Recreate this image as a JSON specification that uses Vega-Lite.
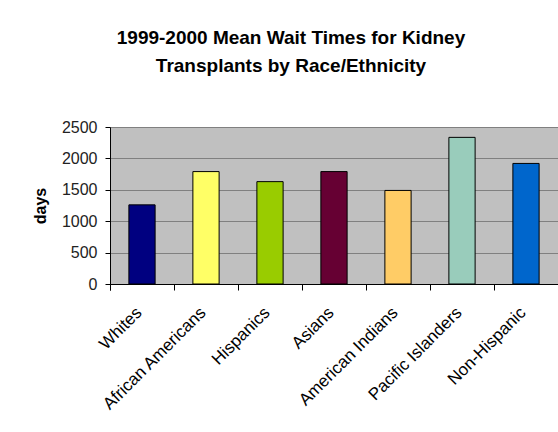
{
  "$schema": "https://vega.github.io/schema/vega-lite/v6.json",
  "autosize": "none",
  "padding": {"left": 110, "top": 127, "right": 0, "bottom": 148},
  "width": 448,
  "height": 157,
  "background": "white",
  "title": {
    "text": ["1999-2000 Mean Wait Times for Kidney", "Transplants by Race/Ethnicity"],
    "font": "Liberation Sans",
    "fontSize": 19,
    "fontWeight": "bold",
    "color": "black",
    "lineHeight": 28,
    "anchor": "middle",
    "frame": "group",
    "dx": -43,
    "offset": 24,
    "baseline": "bottom"
  },
  "data": {
    "values": [
      {"group": "Whites", "days": 1260},
      {"group": "African Americans", "days": 1790},
      {"group": "Hispanics", "days": 1630},
      {"group": "Asians", "days": 1790},
      {"group": "American Indians", "days": 1490},
      {"group": "Pacific Islanders", "days": 2335},
      {"group": "Non-Hispanic", "days": 1920}
    ]
  },
  "mark": {"type": "bar", "stroke": "black", "strokeWidth": 1},
  "encoding": {
    "x": {
      "field": "group",
      "type": "nominal",
      "sort": null,
      "scale": {"paddingInner": 0.59, "paddingOuter": 0.295},
      "axis": {
        "title": null,
        "labelAngle": -45,
        "labelAlign": "right",
        "labelBaseline": "top",
        "labelFont": "Liberation Sans",
        "labelFontSize": 17,
        "labelColor": "black",
        "labelPadding": 14,
        "labelOffset": 10,
        "ticks": true,
        "bandPosition": 0,
        "tickOffset": -19,
        "tickExtra": true,
        "tickSize": 6,
        "tickWidth": 1,
        "tickColor": "black",
        "domainColor": "black",
        "labelOverlap": false,
        "labelLimit": 300
      }
    },
    "y": {
      "field": "days",
      "type": "quantitative",
      "scale": {"domain": [0, 2500]},
      "axis": {
        "title": "days",
        "titleFont": "Liberation Sans",
        "titleFontSize": 16,
        "titleFontWeight": "bold",
        "titleColor": "black",
        "titlePadding": 13,
        "values": [0, 500, 1000, 1500, 2000, 2500],
        "format": "d",
        "labelFont": "Liberation Sans",
        "labelFontSize": 16,
        "labelColor": "#222222",
        "labelPadding": 8,
        "tickSize": 5,
        "tickColor": "black",
        "domainColor": "black",
        "gridColor": "#808080",
        "gridOpacity": 1
      }
    },
    "color": {
      "field": "group",
      "type": "nominal",
      "legend": null,
      "scale": {
        "domain": ["Whites", "African Americans", "Hispanics", "Asians", "American Indians", "Pacific Islanders", "Non-Hispanic"],
        "range": ["#000080", "#FFFF66", "#99CC00", "#660033", "#FFCC66", "#99CCBB", "#0066CC"]
      }
    }
  },
  "config": {
    "view": {"fill": "#C0C0C0", "stroke": null}
  }
}
